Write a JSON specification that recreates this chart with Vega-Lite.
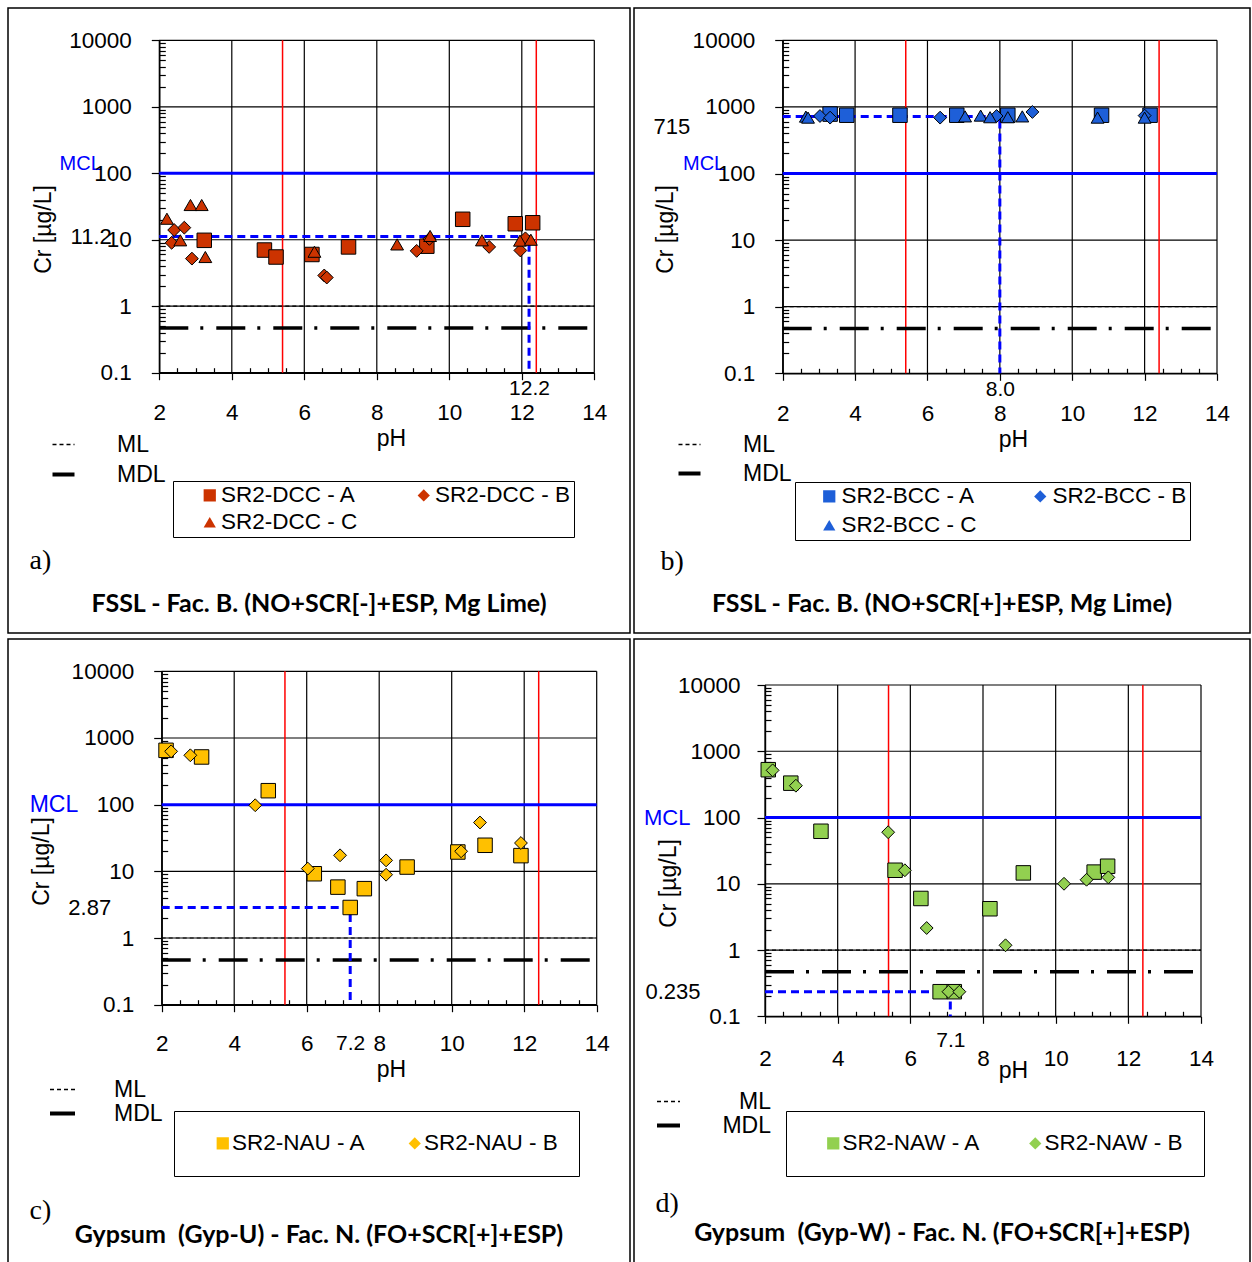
{
  "$schema": "https://vega.github.io/schema/vega-lite/v6.json",
  "padding": {"left": 7, "top": 7, "right": 0, "bottom": 0},
  "background": "white",
  "spacing": 4,
  "config": {
    "view": {"stroke": "black", "strokeWidth": 1.5},
    "font": "Liberation Sans",
    "axis": {"labelFont": "Liberation Sans", "titleFont": "Liberation Sans", "labelColor": "black", "titleColor": "black", "tickColor": "black", "domainColor": "black", "labelOverlap": false, "labelFlush": false, "grid": false, "titleFontWeight": "normal", "tickWidth": 1.2, "domainWidth": 1.4},
    "legend": {"labelFont": "Liberation Sans", "labelColor": "black", "titleColor": "black"},
    "title": {"font": "Lato", "fontWeight": "bold", "fontSize": 25, "color": "black"}
  },
  "datasets": {
    "gx": [{"pH": 2}, {"pH": 4}, {"pH": 6}, {"pH": 8}, {"pH": 10}, {"pH": 12}, {"pH": 14}],
    "gy": [{"Cr": 0.1}, {"Cr": 1}, {"Cr": 10}, {"Cr": 100}, {"Cr": 1000}, {"Cr": 10000}],
    "phlim": [{"pH": 5.4}, {"pH": 12.4}],
    "mcl": [{"Cr": 100}],
    "lim": [{"limit": "ML", "Cr": 1}, {"limit": "MDL", "Cr": 0.47}],
    "a_guide": [{"o": 1, "pH": 2, "Cr": 11.2}, {"o": 2, "pH": 12.2, "Cr": 11.2}, {"o": 3, "pH": 12.2, "Cr": 0.1}],
    "b_guide": [{"o": 1, "pH": 2, "Cr": 715}, {"o": 2, "pH": 8.0, "Cr": 715}, {"o": 3, "pH": 8.0, "Cr": 0.1}],
    "c_guide": [{"o": 1, "pH": 2, "Cr": 2.87}, {"o": 2, "pH": 7.2, "Cr": 2.87}, {"o": 3, "pH": 7.2, "Cr": 0.1}],
    "d_guide": [{"o": 1, "pH": 2, "Cr": 0.235}, {"o": 2, "pH": 7.1, "Cr": 0.235}, {"o": 3, "pH": 7.1, "Cr": 0.1}],
    "a_pts": [
      {"series": "SR2-DCC - A", "pH": 3.24, "Cr": 9.8}, {"series": "SR2-DCC - A", "pH": 4.9, "Cr": 7.0}, {"series": "SR2-DCC - A", "pH": 5.22, "Cr": 5.5}, {"series": "SR2-DCC - A", "pH": 6.21, "Cr": 6.0}, {"series": "SR2-DCC - A", "pH": 7.22, "Cr": 7.8}, {"series": "SR2-DCC - A", "pH": 9.38, "Cr": 8.0}, {"series": "SR2-DCC - A", "pH": 10.37, "Cr": 20.3}, {"series": "SR2-DCC - A", "pH": 11.82, "Cr": 17.4}, {"series": "SR2-DCC - A", "pH": 12.3, "Cr": 18},
      {"series": "SR2-DCC - B", "pH": 2.34, "Cr": 9.0}, {"series": "SR2-DCC - B", "pH": 2.41, "Cr": 14}, {"series": "SR2-DCC - B", "pH": 2.69, "Cr": 15.2}, {"series": "SR2-DCC - B", "pH": 2.9, "Cr": 5.2}, {"series": "SR2-DCC - B", "pH": 6.55, "Cr": 2.9}, {"series": "SR2-DCC - B", "pH": 6.62, "Cr": 2.7}, {"series": "SR2-DCC - B", "pH": 9.1, "Cr": 6.8}, {"series": "SR2-DCC - B", "pH": 9.45, "Cr": 10.3}, {"series": "SR2-DCC - B", "pH": 11.1, "Cr": 7.8}, {"series": "SR2-DCC - B", "pH": 11.96, "Cr": 6.9}, {"series": "SR2-DCC - B", "pH": 12.1, "Cr": 10.5},
      {"series": "SR2-DCC - C", "pH": 2.21, "Cr": 20.7}, {"series": "SR2-DCC - C", "pH": 2.58, "Cr": 9.8}, {"series": "SR2-DCC - C", "pH": 2.86, "Cr": 33.3}, {"series": "SR2-DCC - C", "pH": 3.17, "Cr": 33.3}, {"series": "SR2-DCC - C", "pH": 3.27, "Cr": 5.5}, {"series": "SR2-DCC - C", "pH": 6.28, "Cr": 6.6}, {"series": "SR2-DCC - C", "pH": 8.56, "Cr": 8.5}, {"series": "SR2-DCC - C", "pH": 9.47, "Cr": 11.4}, {"series": "SR2-DCC - C", "pH": 10.9, "Cr": 9.8}, {"series": "SR2-DCC - C", "pH": 11.95, "Cr": 9.7}, {"series": "SR2-DCC - C", "pH": 12.25, "Cr": 10.0}
    ],
    "b_pts": [
      {"series": "SR2-BCC - A", "pH": 3.31, "Cr": 780}, {"series": "SR2-BCC - A", "pH": 3.77, "Cr": 750}, {"series": "SR2-BCC - A", "pH": 5.24, "Cr": 750}, {"series": "SR2-BCC - A", "pH": 6.81, "Cr": 750}, {"series": "SR2-BCC - A", "pH": 8.22, "Cr": 750}, {"series": "SR2-BCC - A", "pH": 10.81, "Cr": 750}, {"series": "SR2-BCC - A", "pH": 12.15, "Cr": 750},
      {"series": "SR2-BCC - B", "pH": 3.03, "Cr": 730}, {"series": "SR2-BCC - B", "pH": 3.31, "Cr": 690}, {"series": "SR2-BCC - B", "pH": 6.35, "Cr": 690}, {"series": "SR2-BCC - B", "pH": 7.91, "Cr": 730}, {"series": "SR2-BCC - B", "pH": 8.9, "Cr": 840}, {"series": "SR2-BCC - B", "pH": 12.0, "Cr": 740},
      {"series": "SR2-BCC - C", "pH": 2.64, "Cr": 715}, {"series": "SR2-BCC - C", "pH": 2.7, "Cr": 690}, {"series": "SR2-BCC - C", "pH": 7.04, "Cr": 720}, {"series": "SR2-BCC - C", "pH": 7.47, "Cr": 740}, {"series": "SR2-BCC - C", "pH": 7.73, "Cr": 700}, {"series": "SR2-BCC - C", "pH": 8.22, "Cr": 700}, {"series": "SR2-BCC - C", "pH": 8.62, "Cr": 720}, {"series": "SR2-BCC - C", "pH": 10.7, "Cr": 690}, {"series": "SR2-BCC - C", "pH": 12.0, "Cr": 690}
    ],
    "c_pts": [
      {"series": "SR2-NAU - A", "pH": 2.12, "Cr": 653}, {"series": "SR2-NAU - A", "pH": 3.1, "Cr": 519}, {"series": "SR2-NAU - A", "pH": 4.94, "Cr": 162}, {"series": "SR2-NAU - A", "pH": 6.21, "Cr": 9.2}, {"series": "SR2-NAU - A", "pH": 6.86, "Cr": 5.8}, {"series": "SR2-NAU - A", "pH": 7.2, "Cr": 2.87}, {"series": "SR2-NAU - A", "pH": 7.59, "Cr": 5.5}, {"series": "SR2-NAU - A", "pH": 8.77, "Cr": 11.6}, {"series": "SR2-NAU - A", "pH": 10.17, "Cr": 19.5}, {"series": "SR2-NAU - A", "pH": 10.92, "Cr": 24.6}, {"series": "SR2-NAU - A", "pH": 11.91, "Cr": 17.2},
      {"series": "SR2-NAU - B", "pH": 2.26, "Cr": 630}, {"series": "SR2-NAU - B", "pH": 2.79, "Cr": 550}, {"series": "SR2-NAU - B", "pH": 4.58, "Cr": 98}, {"series": "SR2-NAU - B", "pH": 6.03, "Cr": 11}, {"series": "SR2-NAU - B", "pH": 6.92, "Cr": 17.4}, {"series": "SR2-NAU - B", "pH": 8.19, "Cr": 14.6}, {"series": "SR2-NAU - B", "pH": 8.19, "Cr": 8.9}, {"series": "SR2-NAU - B", "pH": 10.26, "Cr": 20}, {"series": "SR2-NAU - B", "pH": 10.78, "Cr": 54}, {"series": "SR2-NAU - B", "pH": 11.91, "Cr": 26.6}
    ],
    "d_pts": [
      {"series": "SR2-NAW - A", "pH": 2.09, "Cr": 527}, {"series": "SR2-NAW - A", "pH": 2.71, "Cr": 330}, {"series": "SR2-NAW - A", "pH": 3.54, "Cr": 62}, {"series": "SR2-NAW - A", "pH": 5.58, "Cr": 16}, {"series": "SR2-NAW - A", "pH": 6.29, "Cr": 6.0}, {"series": "SR2-NAW - A", "pH": 6.82, "Cr": 0.235}, {"series": "SR2-NAW - A", "pH": 7.21, "Cr": 0.235}, {"series": "SR2-NAW - A", "pH": 8.19, "Cr": 4.2}, {"series": "SR2-NAW - A", "pH": 9.11, "Cr": 14.6}, {"series": "SR2-NAW - A", "pH": 11.06, "Cr": 15}, {"series": "SR2-NAW - A", "pH": 11.43, "Cr": 18.4},
      {"series": "SR2-NAW - B", "pH": 2.21, "Cr": 515}, {"series": "SR2-NAW - B", "pH": 2.85, "Cr": 302}, {"series": "SR2-NAW - B", "pH": 5.39, "Cr": 60}, {"series": "SR2-NAW - B", "pH": 5.85, "Cr": 16}, {"series": "SR2-NAW - B", "pH": 6.45, "Cr": 2.15}, {"series": "SR2-NAW - B", "pH": 7.05, "Cr": 0.235}, {"series": "SR2-NAW - B", "pH": 7.35, "Cr": 0.235}, {"series": "SR2-NAW - B", "pH": 8.62, "Cr": 1.18}, {"series": "SR2-NAW - B", "pH": 10.23, "Cr": 10}, {"series": "SR2-NAW - B", "pH": 10.85, "Cr": 11.5}, {"series": "SR2-NAW - B", "pH": 11.45, "Cr": 12.5}
    ]
  },
  "resolve": {"scale": {"shape": "independent", "strokeDash": "independent"}},
  "vconcat": [
    {
      "spacing": 4,
      "bounds": "flush",
      "resolve": {"scale": {"shape": "independent", "strokeDash": "independent"}},
      "hconcat": [
        {
          "width": 622, "height": 625,
          "title": {"text": "FSSL - Fac. B. (NO+SCR[-]+ESP, Mg Lime)", "orient": "bottom", "anchor": "middle", "frame": "group", "offset": -29, "baseline": "middle"},
          "resolve": {"axis": {"x": "independent", "y": "independent"}},
          "layer": [
            {"data": {"name": "gx"}, "mark": {"type": "rule", "color": "black", "strokeWidth": 1.2},
             "encoding": {
               "x": {"field": "pH", "type": "quantitative", "scale": {"domain": [2, 14], "range": [151.3, 586.3], "nice": false, "zero": false},
                     "axis": {"orient": "bottom", "offset": -260.3, "values": [2.5, 3, 3.5, 4.5, 5, 5.5, 6.5, 7, 7.5, 8.5, 9, 9.5, 10.5, 11, 11.5, 12.5, 13, 13.5], "tickSize": -5, "labels": false, "domain": false, "title": null}},
               "y": {"datum": 0.1, "type": "quantitative", "scale": {"type": "log", "domain": [0.1, 10000], "range": [364.7, 32.3], "nice": false}, "axis": null},
               "y2": {"datum": 10000}}},
            {"data": {"name": "gy"}, "mark": {"type": "rule", "color": "black", "strokeWidth": 1.2},
             "encoding": {
               "y": {"field": "Cr", "type": "quantitative", "scale": {"type": "log", "domain": [0.1, 10000], "range": [364.7, 32.3], "nice": false},
                     "axis": {"orient": "left", "offset": -151.3, "values": [0.2, 0.3, 0.4, 0.5, 0.6, 0.7, 0.8, 0.9, 2, 3, 4, 5, 6, 7, 8, 9, 20, 30, 40, 50, 60, 70, 80, 90, 200, 300, 400, 500, 600, 700, 800, 900, 2000, 3000, 4000, 5000, 6000, 7000, 8000, 9000], "tickSize": -6, "labels": false, "domain": false, "title": null}},
               "x": {"datum": 2, "type": "quantitative", "scale": {"domain": [2, 14], "range": [151.3, 586.3], "nice": false, "zero": false}, "axis": null},
               "x2": {"datum": 14}}},
            {"data": {"name": "phlim"}, "mark": {"type": "rule", "color": "#FF0000", "strokeWidth": 1.5},
             "encoding": {
               "x": {"field": "pH", "type": "quantitative", "scale": {"domain": [2, 14], "range": [151.3, 586.3], "nice": false, "zero": false}, "axis": null},
               "y": {"datum": 0.1, "type": "quantitative", "scale": {"type": "log", "domain": [0.1, 10000], "range": [364.7, 32.3], "nice": false}, "axis": null},
               "y2": {"datum": 10000}}},
            {"data": {"name": "mcl"}, "mark": {"type": "rule", "color": "#0000FF", "strokeWidth": 3},
             "encoding": {
               "y": {"field": "Cr", "type": "quantitative", "scale": {"type": "log", "domain": [0.1, 10000], "range": [364.7, 32.3], "nice": false},
                     "axis": {"orient": "left", "offset": -151.3, "values": [100, 11.2], "format": "~g", "domain": false, "ticks": false, "title": null,
                              "labelExpr": "datum.value === 100 ? 'MCL' : datum.label",
                              "labelColor": {"condition": {"test": "datum.value === 100", "value": "#0000FF"}, "value": "black"},
                              "labelFontSize": {"condition": {"test": "datum.value === 100", "value": 20}, "value": 22},
                              "labelPadding": {"condition": {"test": "datum.value === 100", "value": 58}, "value": 48},
                              "labelBaseline": {"condition": {"test": "datum.value === 100", "value": "bottom"}, "value": "middle"}}},
               "x": {"datum": 2, "type": "quantitative", "scale": {"domain": [2, 14], "range": [151.3, 586.3], "nice": false, "zero": false}, "axis": null},
               "x2": {"datum": 14}}},
            {"data": {"name": "lim"}, "mark": {"type": "rule", "color": "black"},
             "encoding": {
               "y": {"field": "Cr", "type": "quantitative", "scale": {"type": "log", "domain": [0.1, 10000], "range": [364.7, 32.3], "nice": false}, "axis": null},
               "x": {"datum": 2, "type": "quantitative", "scale": {"domain": [2, 14], "range": [151.3, 586.3], "nice": false, "zero": false}, "axis": null},
               "x2": {"datum": 14},
               "strokeDash": {"field": "limit", "type": "nominal", "scale": {"domain": ["ML", "MDL"], "range": [[4, 3], [29, 12, 3, 13]]},
                              "legend": {"title": null, "orient": "none", "legendX": 44, "legendY": 425, "direction": "vertical", "symbolType": "stroke", "symbolSize": 484, "symbolStrokeColor": "black", "labelFontSize": 23, "labelOffset": 42, "rowPadding": 6, "padding": 0,
                                         "encode": {"symbols": {"update": {"strokeWidth": {"signal": "datum.value === 'MDL' ? 4 : 1.3"}}}}}},
               "strokeWidth": {"condition": {"test": "datum.limit === 'MDL'", "value": 3.5}, "value": 1.2}}},
            {"data": {"name": "a_guide"}, "mark": {"type": "line", "color": "#0000FF", "strokeWidth": 3, "strokeDash": [8, 5]},
             "encoding": {
               "x": {"field": "pH", "type": "quantitative", "scale": {"domain": [2, 14], "range": [151.3, 586.3], "nice": false, "zero": false},
                     "axis": {"orient": "bottom", "offset": -260.3, "values": [12.2], "format": ".1f", "domain": false, "ticks": false, "labelFontSize": 21, "labelPadding": 16, "labelBaseline": "middle",
                              "title": "a)", "titleFont": "Liberation Serif", "titleFontSize": 28, "titleFontWeight": "normal", "titleX": 21, "titleY": 188, "titleAlign": "left", "titleBaseline": "middle"}},
               "y": {"field": "Cr", "type": "quantitative", "scale": {"type": "log", "domain": [0.1, 10000], "range": [364.7, 32.3], "nice": false}, "axis": null},
               "order": {"field": "o"}}},
            {"data": {"name": "a_pts"}, "mark": {"type": "point", "filled": true, "color": "#CC3300", "stroke": "black", "strokeWidth": 1, "opacity": 1},
             "encoding": {
               "x": {"field": "pH", "type": "quantitative", "scale": {"domain": [2, 14], "range": [151.3, 586.3], "nice": false, "zero": false},
                     "axis": {"orient": "bottom", "offset": -260.3, "values": [2, 4, 6, 8, 10, 12, 14], "tickSize": 7, "labelFontSize": 22.5, "labelPadding": 33, "labelBaseline": "middle",
                              "title": "pH", "titleFontSize": 23, "titleX": 383, "titleY": 66, "titleAlign": "center", "titleBaseline": "middle"}},
               "y": {"field": "Cr", "type": "quantitative", "scale": {"type": "log", "domain": [0.1, 10000], "range": [364.7, 32.3], "nice": false},
                     "axis": {"orient": "left", "offset": -151.3, "values": [0.1, 1, 10, 100, 1000, 10000], "format": "~g", "tickSize": 8, "labelFontSize": 22.5, "labelPadding": 20, "labelBaseline": "middle",
                              "title": "Cr [µg/L]", "titleFontSize": 23, "titleAngle": -90, "titleX": -116.3, "titleY": 221, "titleAlign": "center", "titleBaseline": "middle"}},
               "size": {"condition": {"test": "indexof(datum.series, '- A') >= 0", "value": 210}, "value": 165},
               "shape": {"field": "series", "type": "nominal", "scale": {"domain": ["SR2-DCC - A", "SR2-DCC - B", "SR2-DCC - C"], "range": ["square", "diamond", "triangle-up"]},
                         "legend": {"orient": "none", "legendX": 165, "legendY": 473, "direction": "horizontal", "columns": 2, "title": "\u00a0", "titleOrient": "left", "titleFontSize": 8, "titlePadding": 22.5, "padding": 3, "strokeColor": "black", "labelFontSize": 22.5, "labelOffset": 0, "columnPadding": 55, "rowPadding": 4, "symbolSize": 150, "symbolFillColor": "#CC3300", "symbolStrokeColor": "black", "symbolStrokeWidth": 1.3, "labelLimit": 400}}}}
          ]
        },
        {
          "width": 616, "height": 625,
          "title": {"text": "FSSL - Fac. B. (NO+SCR[+]+ESP, Mg Lime)", "orient": "bottom", "anchor": "middle", "frame": "group", "offset": -29, "baseline": "middle"},
          "resolve": {"axis": {"x": "independent", "y": "independent"}},
          "layer": [
            {"data": {"name": "gx"}, "mark": {"type": "rule", "color": "black", "strokeWidth": 1.2},
             "encoding": {
               "x": {"field": "pH", "type": "quantitative", "scale": {"domain": [2, 14], "range": [148.7, 583], "nice": false, "zero": false},
                     "axis": {"orient": "bottom", "offset": -259.7, "values": [2.5, 3, 3.5, 4.5, 5, 5.5, 6.5, 7, 7.5, 8.5, 9, 9.5, 10.5, 11, 11.5, 12.5, 13, 13.5], "tickSize": -5, "labels": false, "domain": false, "title": null}},
               "y": {"datum": 0.1, "type": "quantitative", "scale": {"type": "log", "domain": [0.1, 10000], "range": [365.3, 32.3], "nice": false}, "axis": null},
               "y2": {"datum": 10000}}},
            {"data": {"name": "gy"}, "mark": {"type": "rule", "color": "black", "strokeWidth": 1.2},
             "encoding": {
               "y": {"field": "Cr", "type": "quantitative", "scale": {"type": "log", "domain": [0.1, 10000], "range": [365.3, 32.3], "nice": false},
                     "axis": {"orient": "left", "offset": -148.7, "values": [0.2, 0.3, 0.4, 0.5, 0.6, 0.7, 0.8, 0.9, 2, 3, 4, 5, 6, 7, 8, 9, 20, 30, 40, 50, 60, 70, 80, 90, 200, 300, 400, 500, 600, 700, 800, 900, 2000, 3000, 4000, 5000, 6000, 7000, 8000, 9000], "tickSize": -6, "labels": false, "domain": false, "title": null}},
               "x": {"datum": 2, "type": "quantitative", "scale": {"domain": [2, 14], "range": [148.7, 583], "nice": false, "zero": false}, "axis": null},
               "x2": {"datum": 14}}},
            {"data": {"name": "phlim"}, "mark": {"type": "rule", "color": "#FF0000", "strokeWidth": 1.5},
             "encoding": {
               "x": {"field": "pH", "type": "quantitative", "scale": {"domain": [2, 14], "range": [148.7, 583], "nice": false, "zero": false}, "axis": null},
               "y": {"datum": 0.1, "type": "quantitative", "scale": {"type": "log", "domain": [0.1, 10000], "range": [365.3, 32.3], "nice": false}, "axis": null},
               "y2": {"datum": 10000}}},
            {"data": {"name": "mcl"}, "mark": {"type": "rule", "color": "#0000FF", "strokeWidth": 3},
             "encoding": {
               "y": {"field": "Cr", "type": "quantitative", "scale": {"type": "log", "domain": [0.1, 10000], "range": [365.3, 32.3], "nice": false},
                     "axis": {"orient": "left", "offset": -148.7, "values": [100, 715], "format": "~g", "domain": false, "ticks": false, "title": null,
                              "labelExpr": "datum.value === 100 ? 'MCL' : datum.label",
                              "labelColor": {"condition": {"test": "datum.value === 100", "value": "#0000FF"}, "value": "black"},
                              "labelFontSize": {"condition": {"test": "datum.value === 100", "value": 20}, "value": 22},
                              "labelPadding": {"condition": {"test": "datum.value === 100", "value": 58}, "value": 93},
                              "labelBaseline": {"condition": {"test": "datum.value === 100", "value": "bottom"}, "value": "top"}}},
               "x": {"datum": 2, "type": "quantitative", "scale": {"domain": [2, 14], "range": [148.7, 583], "nice": false, "zero": false}, "axis": null},
               "x2": {"datum": 14}}},
            {"data": {"name": "lim"}, "mark": {"type": "rule", "color": "black"},
             "encoding": {
               "y": {"field": "Cr", "type": "quantitative", "scale": {"type": "log", "domain": [0.1, 10000], "range": [365.3, 32.3], "nice": false}, "axis": null},
               "x": {"datum": 2, "type": "quantitative", "scale": {"domain": [2, 14], "range": [148.7, 583], "nice": false, "zero": false}, "axis": null},
               "x2": {"datum": 14},
               "strokeDash": {"field": "limit", "type": "nominal", "scale": {"domain": ["ML", "MDL"], "range": [[4, 3], [29, 12, 3, 13]]},
                              "legend": {"title": null, "orient": "none", "legendX": 44, "legendY": 425, "direction": "vertical", "symbolType": "stroke", "symbolSize": 484, "symbolStrokeColor": "black", "labelFontSize": 23, "labelOffset": 42, "rowPadding": 5, "padding": 0,
                                         "encode": {"symbols": {"update": {"strokeWidth": {"signal": "datum.value === 'MDL' ? 4 : 1.3"}}}}}},
               "strokeWidth": {"condition": {"test": "datum.limit === 'MDL'", "value": 3.5}, "value": 1.2}}},
            {"data": {"name": "b_guide"}, "mark": {"type": "line", "color": "#0000FF", "strokeWidth": 3, "strokeDash": [8, 5]},
             "encoding": {
               "x": {"field": "pH", "type": "quantitative", "scale": {"domain": [2, 14], "range": [148.7, 583], "nice": false, "zero": false},
                     "axis": {"orient": "bottom", "offset": -259.7, "values": [8], "format": ".1f", "domain": false, "ticks": false, "labelFontSize": 21, "labelPadding": 16, "labelBaseline": "middle",
                              "title": "b)", "titleFont": "Liberation Serif", "titleFontSize": 28, "titleFontWeight": "normal", "titleX": 26, "titleY": 188, "titleAlign": "left", "titleBaseline": "middle"}},
               "y": {"field": "Cr", "type": "quantitative", "scale": {"type": "log", "domain": [0.1, 10000], "range": [365.3, 32.3], "nice": false}, "axis": null},
               "order": {"field": "o"}}},
            {"data": {"name": "b_pts"}, "mark": {"type": "point", "filled": true, "color": "#1E5FD8", "stroke": "black", "strokeWidth": 1, "opacity": 1},
             "encoding": {
               "x": {"field": "pH", "type": "quantitative", "scale": {"domain": [2, 14], "range": [148.7, 583], "nice": false, "zero": false},
                     "axis": {"orient": "bottom", "offset": -259.7, "values": [2, 4, 6, 8, 10, 12, 14], "tickSize": 7, "labelFontSize": 22.5, "labelPadding": 33, "labelBaseline": "middle",
                              "title": "pH", "titleFontSize": 23, "titleX": 379, "titleY": 66, "titleAlign": "center", "titleBaseline": "middle"}},
               "y": {"field": "Cr", "type": "quantitative", "scale": {"type": "log", "domain": [0.1, 10000], "range": [365.3, 32.3], "nice": false},
                     "axis": {"orient": "left", "offset": -148.7, "values": [0.1, 1, 10, 100, 1000, 10000], "format": "~g", "tickSize": 8, "labelFontSize": 22.5, "labelPadding": 20, "labelBaseline": "middle",
                              "title": "Cr [µg/L]", "titleFontSize": 23, "titleAngle": -90, "titleX": -117.7, "titleY": 221, "titleAlign": "center", "titleBaseline": "middle"}},
               "size": {"condition": {"test": "indexof(datum.series, '- A') >= 0", "value": 210}, "value": 165},
               "shape": {"field": "series", "type": "nominal", "scale": {"domain": ["SR2-BCC - A", "SR2-BCC - B", "SR2-BCC - C"], "range": ["square", "diamond", "triangle-up"]},
                         "legend": {"orient": "none", "legendX": 161, "legendY": 474, "direction": "horizontal", "columns": 2, "title": "\u00a0", "titleOrient": "left", "titleFontSize": 8, "titlePadding": 20, "padding": 3, "strokeColor": "black", "labelFontSize": 22.5, "labelOffset": 1, "columnPadding": 52, "rowPadding": 6, "symbolSize": 150, "symbolFillColor": "#1E5FD8", "symbolStrokeColor": "black", "symbolStrokeWidth": 1.3, "labelLimit": 400}}}}
          ]
        }
      ]
    },
    {
      "spacing": 4,
      "bounds": "flush",
      "resolve": {"scale": {"shape": "independent", "strokeDash": "independent"}},
      "hconcat": [
        {
          "width": 622, "height": 625,
          "title": {"text": "Gypsum\u00a0 (Gyp-U) - Fac. N. (FO+SCR[+]+ESP)", "orient": "bottom", "anchor": "middle", "frame": "group", "offset": -29, "baseline": "middle"},
          "resolve": {"axis": {"x": "independent", "y": "independent"}},
          "layer": [
            {"data": {"name": "gx"}, "mark": {"type": "rule", "color": "black", "strokeWidth": 1.2},
             "encoding": {
               "x": {"field": "pH", "type": "quantitative", "scale": {"domain": [2, 14], "range": [153.7, 588.7], "nice": false, "zero": false},
                     "axis": {"orient": "bottom", "offset": -259.3, "values": [2.5, 3, 3.5, 4.5, 5, 5.5, 6.5, 7, 7.5, 8.5, 9, 9.5, 10.5, 11, 11.5, 12.5, 13, 13.5], "tickSize": -5, "labels": false, "domain": false, "title": null}},
               "y": {"datum": 0.1, "type": "quantitative", "scale": {"type": "log", "domain": [0.1, 10000], "range": [365.7, 32.3], "nice": false}, "axis": null},
               "y2": {"datum": 10000}}},
            {"data": {"name": "gy"}, "mark": {"type": "rule", "color": "black", "strokeWidth": 1.2},
             "encoding": {
               "y": {"field": "Cr", "type": "quantitative", "scale": {"type": "log", "domain": [0.1, 10000], "range": [365.7, 32.3], "nice": false},
                     "axis": {"orient": "left", "offset": -153.7, "values": [0.2, 0.3, 0.4, 0.5, 0.6, 0.7, 0.8, 0.9, 2, 3, 4, 5, 6, 7, 8, 9, 20, 30, 40, 50, 60, 70, 80, 90, 200, 300, 400, 500, 600, 700, 800, 900, 2000, 3000, 4000, 5000, 6000, 7000, 8000, 9000], "tickSize": -6, "labels": false, "domain": false, "title": null}},
               "x": {"datum": 2, "type": "quantitative", "scale": {"domain": [2, 14], "range": [153.7, 588.7], "nice": false, "zero": false}, "axis": null},
               "x2": {"datum": 14}}},
            {"data": {"name": "phlim"}, "mark": {"type": "rule", "color": "#FF0000", "strokeWidth": 1.5},
             "encoding": {
               "x": {"field": "pH", "type": "quantitative", "scale": {"domain": [2, 14], "range": [153.7, 588.7], "nice": false, "zero": false}, "axis": null},
               "y": {"datum": 0.1, "type": "quantitative", "scale": {"type": "log", "domain": [0.1, 10000], "range": [365.7, 32.3], "nice": false}, "axis": null},
               "y2": {"datum": 10000}}},
            {"data": {"name": "mcl"}, "mark": {"type": "rule", "color": "#0000FF", "strokeWidth": 3},
             "encoding": {
               "y": {"field": "Cr", "type": "quantitative", "scale": {"type": "log", "domain": [0.1, 10000], "range": [365.7, 32.3], "nice": false},
                     "axis": {"orient": "left", "offset": -153.7, "values": [100, 2.87], "format": "~g", "domain": false, "ticks": false, "title": null,
                              "labelExpr": "datum.value === 100 ? 'MCL' : datum.label",
                              "labelColor": {"condition": {"test": "datum.value === 100", "value": "#0000FF"}, "value": "black"},
                              "labelFontSize": {"condition": {"test": "datum.value === 100", "value": 23}, "value": 22},
                              "labelPadding": {"condition": {"test": "datum.value === 100", "value": 84}, "value": 51},
                              "labelBaseline": "middle"}},
               "x": {"datum": 2, "type": "quantitative", "scale": {"domain": [2, 14], "range": [153.7, 588.7], "nice": false, "zero": false}, "axis": null},
               "x2": {"datum": 14}}},
            {"data": {"name": "lim"}, "mark": {"type": "rule", "color": "black"},
             "encoding": {
               "y": {"field": "Cr", "type": "quantitative", "scale": {"type": "log", "domain": [0.1, 10000], "range": [365.7, 32.3], "nice": false}, "axis": null},
               "x": {"datum": 2, "type": "quantitative", "scale": {"domain": [2, 14], "range": [153.7, 588.7], "nice": false, "zero": false}, "axis": null},
               "x2": {"datum": 14},
               "strokeDash": {"field": "limit", "type": "nominal", "scale": {"domain": ["ML", "MDL"], "range": [[4, 3], [29, 12, 3, 13]]},
                              "legend": {"title": null, "orient": "none", "legendX": 43, "legendY": 439, "direction": "vertical", "symbolType": "stroke", "symbolSize": 625, "symbolStrokeColor": "black", "labelFontSize": 23, "labelOffset": 40, "rowPadding": 0, "padding": 0,
                                         "encode": {"symbols": {"update": {"strokeWidth": {"signal": "datum.value === 'MDL' ? 4 : 1.3"}}}}}},
               "strokeWidth": {"condition": {"test": "datum.limit === 'MDL'", "value": 3.5}, "value": 1.2}}},
            {"data": {"name": "c_guide"}, "mark": {"type": "line", "color": "#0000FF", "strokeWidth": 3, "strokeDash": [8, 5]},
             "encoding": {
               "x": {"field": "pH", "type": "quantitative", "scale": {"domain": [2, 14], "range": [153.7, 588.7], "nice": false, "zero": false},
                     "axis": {"orient": "bottom", "offset": -259.3, "values": [7.2], "format": ".1f", "domain": false, "ticks": false, "labelFontSize": 21, "labelPadding": 39, "labelBaseline": "middle",
                              "title": "c)", "titleFont": "Liberation Serif", "titleFontSize": 28, "titleFontWeight": "normal", "titleX": 21, "titleY": 206, "titleAlign": "left", "titleBaseline": "middle"}},
               "y": {"field": "Cr", "type": "quantitative", "scale": {"type": "log", "domain": [0.1, 10000], "range": [365.7, 32.3], "nice": false}, "axis": null},
               "order": {"field": "o"}}},
            {"data": {"name": "c_pts"}, "mark": {"type": "point", "filled": true, "color": "#FFC000", "stroke": "black", "strokeWidth": 1, "opacity": 1},
             "encoding": {
               "x": {"field": "pH", "type": "quantitative", "scale": {"domain": [2, 14], "range": [153.7, 588.7], "nice": false, "zero": false},
                     "axis": {"orient": "bottom", "offset": -259.3, "values": [2, 4, 6, 8, 10, 12, 14], "tickSize": 7, "labelFontSize": 22.5, "labelPadding": 32, "labelBaseline": "middle",
                              "title": "pH", "titleFontSize": 23, "titleX": 383, "titleY": 65, "titleAlign": "center", "titleBaseline": "middle"}},
               "y": {"field": "Cr", "type": "quantitative", "scale": {"type": "log", "domain": [0.1, 10000], "range": [365.7, 32.3], "nice": false},
                     "axis": {"orient": "left", "offset": -153.7, "values": [0.1, 1, 10, 100, 1000, 10000], "format": "~g", "tickSize": 8, "labelFontSize": 22.5, "labelPadding": 20, "labelBaseline": "middle",
                              "title": "Cr [µg/L]", "titleFontSize": 23, "titleAngle": -90, "titleX": -120.7, "titleY": 222, "titleAlign": "center", "titleBaseline": "middle"}},
               "size": {"condition": {"test": "indexof(datum.series, '- A') >= 0", "value": 210}, "value": 165},
               "shape": {"field": "series", "type": "nominal", "scale": {"domain": ["SR2-NAU - A", "SR2-NAU - B"], "range": ["square", "diamond"]},
                         "legend": {"orient": "none", "legendX": 166, "legendY": 472, "direction": "horizontal", "columns": 2, "title": "\u00a0", "titleOrient": "left", "titleFontSize": 8, "titlePadding": 16.5, "padding": 21, "strokeColor": "black", "labelFontSize": 22.5, "labelOffset": -2, "columnPadding": 37, "rowPadding": 4, "symbolSize": 150, "symbolFillColor": "#FFC000", "symbolStrokeColor": "black", "symbolStrokeWidth": 1.3, "labelLimit": 400}}}}
          ]
        },
        {
          "width": 616, "height": 625,
          "title": {"text": "Gypsum\u00a0 (Gyp-W) - Fac. N. (FO+SCR[+]+ESP)", "orient": "bottom", "anchor": "middle", "frame": "group", "offset": -31, "baseline": "middle"},
          "resolve": {"axis": {"x": "independent", "y": "independent"}},
          "layer": [
            {"data": {"name": "gx"}, "mark": {"type": "rule", "color": "black", "strokeWidth": 1.2},
             "encoding": {
               "x": {"field": "pH", "type": "quantitative", "scale": {"domain": [2, 14], "range": [131, 567], "nice": false, "zero": false},
                     "axis": {"orient": "bottom", "offset": -247.7, "values": [2.5, 3, 3.5, 4.5, 5, 5.5, 6.5, 7, 7.5, 8.5, 9, 9.5, 10.5, 11, 11.5, 12.5, 13, 13.5], "tickSize": -5, "labels": false, "domain": false, "title": null}},
               "y": {"datum": 0.1, "type": "quantitative", "scale": {"type": "log", "domain": [0.1, 10000], "range": [377.3, 46], "nice": false}, "axis": null},
               "y2": {"datum": 10000}}},
            {"data": {"name": "gy"}, "mark": {"type": "rule", "color": "black", "strokeWidth": 1.2},
             "encoding": {
               "y": {"field": "Cr", "type": "quantitative", "scale": {"type": "log", "domain": [0.1, 10000], "range": [377.3, 46], "nice": false},
                     "axis": {"orient": "left", "offset": -131, "values": [0.2, 0.3, 0.4, 0.5, 0.6, 0.7, 0.8, 0.9, 2, 3, 4, 5, 6, 7, 8, 9, 20, 30, 40, 50, 60, 70, 80, 90, 200, 300, 400, 500, 600, 700, 800, 900, 2000, 3000, 4000, 5000, 6000, 7000, 8000, 9000], "tickSize": -6, "labels": false, "domain": false, "title": null}},
               "x": {"datum": 2, "type": "quantitative", "scale": {"domain": [2, 14], "range": [131, 567], "nice": false, "zero": false}, "axis": null},
               "x2": {"datum": 14}}},
            {"data": {"name": "phlim"}, "mark": {"type": "rule", "color": "#FF0000", "strokeWidth": 1.5},
             "encoding": {
               "x": {"field": "pH", "type": "quantitative", "scale": {"domain": [2, 14], "range": [131, 567], "nice": false, "zero": false}, "axis": null},
               "y": {"datum": 0.1, "type": "quantitative", "scale": {"type": "log", "domain": [0.1, 10000], "range": [377.3, 46], "nice": false}, "axis": null},
               "y2": {"datum": 10000}}},
            {"data": {"name": "mcl"}, "mark": {"type": "rule", "color": "#0000FF", "strokeWidth": 3},
             "encoding": {
               "y": {"field": "Cr", "type": "quantitative", "scale": {"type": "log", "domain": [0.1, 10000], "range": [377.3, 46], "nice": false},
                     "axis": {"orient": "left", "offset": -131, "values": [100, 0.235], "format": "~g", "domain": false, "ticks": false, "title": null,
                              "labelExpr": "datum.value === 100 ? 'MCL' : datum.label",
                              "labelColor": {"condition": {"test": "datum.value === 100", "value": "#0000FF"}, "value": "black"},
                              "labelFontSize": 22,
                              "labelPadding": {"condition": {"test": "datum.value === 100", "value": 75}, "value": 65},
                              "labelBaseline": "middle"}},
               "x": {"datum": 2, "type": "quantitative", "scale": {"domain": [2, 14], "range": [131, 567], "nice": false, "zero": false}, "axis": null},
               "x2": {"datum": 14}}},
            {"data": {"name": "lim"}, "mark": {"type": "rule", "color": "black"},
             "encoding": {
               "y": {"field": "Cr", "type": "quantitative", "scale": {"type": "log", "domain": [0.1, 10000], "range": [377.3, 46], "nice": false}, "axis": null},
               "x": {"datum": 2, "type": "quantitative", "scale": {"domain": [2, 14], "range": [131, 567], "nice": false, "zero": false}, "axis": null},
               "x2": {"datum": 14},
               "strokeDash": {"field": "limit", "type": "nominal", "scale": {"domain": ["ML", "MDL"], "range": [[4, 3], [29, 12, 3, 13]]},
                              "legend": {"title": null, "orient": "none", "legendX": 23, "legendY": 451, "direction": "vertical", "symbolType": "stroke", "symbolSize": 529, "symbolStrokeColor": "black", "labelFontSize": 23, "labelOffset": 91, "labelAlign": "right", "rowPadding": 0, "padding": 0,
                                         "encode": {"symbols": {"update": {"strokeWidth": {"signal": "datum.value === 'MDL' ? 4 : 1.3"}}}}}},
               "strokeWidth": {"condition": {"test": "datum.limit === 'MDL'", "value": 3.5}, "value": 1.2}}},
            {"data": {"name": "d_guide"}, "mark": {"type": "line", "color": "#0000FF", "strokeWidth": 3, "strokeDash": [8, 5]},
             "encoding": {
               "x": {"field": "pH", "type": "quantitative", "scale": {"domain": [2, 14], "range": [131, 567], "nice": false, "zero": false},
                     "axis": {"orient": "bottom", "offset": -247.7, "values": [7.1], "format": ".1f", "domain": false, "ticks": false, "labelFontSize": 21, "labelPadding": 24, "labelBaseline": "middle",
                              "title": "d)", "titleFont": "Liberation Serif", "titleFontSize": 28, "titleFontWeight": "normal", "titleX": 21, "titleY": 187, "titleAlign": "left", "titleBaseline": "middle"}},
               "y": {"field": "Cr", "type": "quantitative", "scale": {"type": "log", "domain": [0.1, 10000], "range": [377.3, 46], "nice": false}, "axis": null},
               "order": {"field": "o"}}},
            {"data": {"name": "d_pts"}, "mark": {"type": "point", "filled": true, "color": "#92D050", "stroke": "black", "strokeWidth": 1, "opacity": 1},
             "encoding": {
               "x": {"field": "pH", "type": "quantitative", "scale": {"domain": [2, 14], "range": [131, 567], "nice": false, "zero": false},
                     "axis": {"orient": "bottom", "offset": -247.7, "values": [2, 4, 6, 8, 10, 12, 14], "tickSize": 7, "labelFontSize": 22.5, "labelPadding": 35, "labelBaseline": "middle",
                              "title": "pH", "titleFontSize": 23, "titleX": 379, "titleY": 54, "titleAlign": "center", "titleBaseline": "middle"}},
               "y": {"field": "Cr", "type": "quantitative", "scale": {"type": "log", "domain": [0.1, 10000], "range": [377.3, 46], "nice": false},
                     "axis": {"orient": "left", "offset": -131, "values": [0.1, 1, 10, 100, 1000, 10000], "format": "~g", "tickSize": 8, "labelFontSize": 22.5, "labelPadding": 17, "labelBaseline": "middle",
                              "title": "Cr [µg/L]", "titleFontSize": 23, "titleAngle": -90, "titleX": -97, "titleY": 244, "titleAlign": "center", "titleBaseline": "middle"}},
               "size": {"condition": {"test": "indexof(datum.series, '- A') >= 0", "value": 210}, "value": 165},
               "shape": {"field": "series", "type": "nominal", "scale": {"domain": ["SR2-NAW - A", "SR2-NAW - B"], "range": ["square", "diamond"]},
                         "legend": {"orient": "none", "legendX": 152, "legendY": 472, "direction": "horizontal", "columns": 2, "title": "\u00a0", "titleOrient": "left", "titleFontSize": 8, "titlePadding": 15, "padding": 21, "strokeColor": "black", "labelFontSize": 22.5, "labelOffset": -2, "columnPadding": 43, "rowPadding": 4, "symbolSize": 150, "symbolFillColor": "#92D050", "symbolStrokeColor": "black", "symbolStrokeWidth": 1.3, "labelLimit": 400}}}}
          ]
        }
      ]
    }
  ]
}
